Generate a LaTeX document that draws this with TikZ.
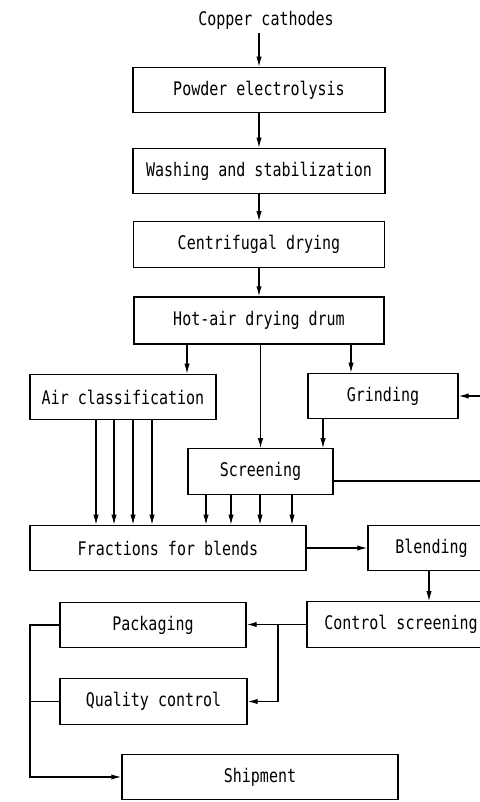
\documentclass[tikz,border=0pt]{standalone}
\usepackage{fontspec}
\newfontfamily\drawfont{DejaVu Sans Mono}[FakeStretch=0.8]
\usetikzlibrary{arrows.meta}

\begin{document}
\begin{tikzpicture}[x=0.03cm, y=-0.03cm,
        box/.style={draw, line width=1.1pt, inner sep=0pt, minimum height=1.36cm},
        flow/.style={line width=1pt, -{Latex[length=3mm,width=1.6mm]}},
        every node/.style={font=\drawfont\fontsize{16}{19}\selectfont}]
            \useasboundingbox (0,0) rectangle (480,802);
            \clip (0,0) rectangle (480,802);

                \node (cath) at (266,20) {Copper cathodes};
                \node[box, minimum width=7.56cm] (pow) at (259,90) {Powder electrolysis};
                \node[box, minimum width=7.56cm] (wash) at (259,171) {Washing and stabilization};
                \node[box, minimum width=7.53cm] (cent) at (259,244.5) {Centrifugal drying};
                \node[box, minimum width=7.5cm, minimum height=1.41cm] (hot) at (259,320.5) {Hot-air drying drum};

                \node[box, minimum width=5.58cm] (air) at (123,397) {Air classification};
                \node[box, minimum width=4.5cm] (grind) at (383,396) {Grinding};
                \node[box, minimum width=4.35cm] (scr) at (260.5,471.5) {Screening};

                \node[box, minimum width=8.28cm] (frac) at (168,548) {Fractions for blends};
                \node[box, minimum width=3.81cm] (blend) at (431.5,548) {Blending};
                \node[box, minimum width=5.64cm] (ctrl) at (401,624.5) {Control screening};

                \node[box, minimum width=5.58cm] (pack) at (153,625) {Packaging};
                \node[box, minimum width=5.61cm] (qual) at (153.5,701.5) {Quality control};
                \node[box, minimum width=8.28cm] (ship) at (260,777) {Shipment};

                \coordinate (feed) at (490,396);
                \coordinate (over) at (490,481);

                \draw[flow] (pow.north |- cath.south) -- (pow.north);
                \draw[flow] (pow) -- (wash);
                \draw[flow] (wash) -- (cent);
                \draw[flow] (cent) -- (hot);

                \draw[flow] (hot.south -| 187,0) -- (air.north -| 187,0);
                \draw[flow] (hot.south -| scr.north) -- (scr.north);
                \draw[flow] (hot.south -| 351,0) -- (grind.north -| 351,0);
                \draw[flow] (feed) -- (grind.east);
                \draw[flow] (grind.south -| 323,0) -- (scr.north -| 323,0);
                \draw[line width=1pt] (scr.east |- over) -- (over);

                \foreach \x in {96,114,133,152}
                    \draw[flow] (air.south -| \x,0) -- (frac.north -| \x,0);
                \foreach \x in {206,231,260,292}
                    \draw[flow] (scr.south -| \x,0) -- (frac.north -| \x,0);

                \draw[flow] (frac.east) -- (frac.east -| blend.west);
                \draw[flow] (blend.south -| 429,0) -- (ctrl.north -| 429,0);
                \draw[flow] (ctrl.west) -- (ctrl.west -| pack.east);
                \draw[flow] (ctrl.west -| 278,0) |- (qual.east);

                \draw[flow] (pack.west) -- (pack.west -| 30,0) |- (ship.west);
                \draw[line width=1pt] (qual.west) -- (qual.west -| 30,0);
        \end{tikzpicture}
\end{document}
